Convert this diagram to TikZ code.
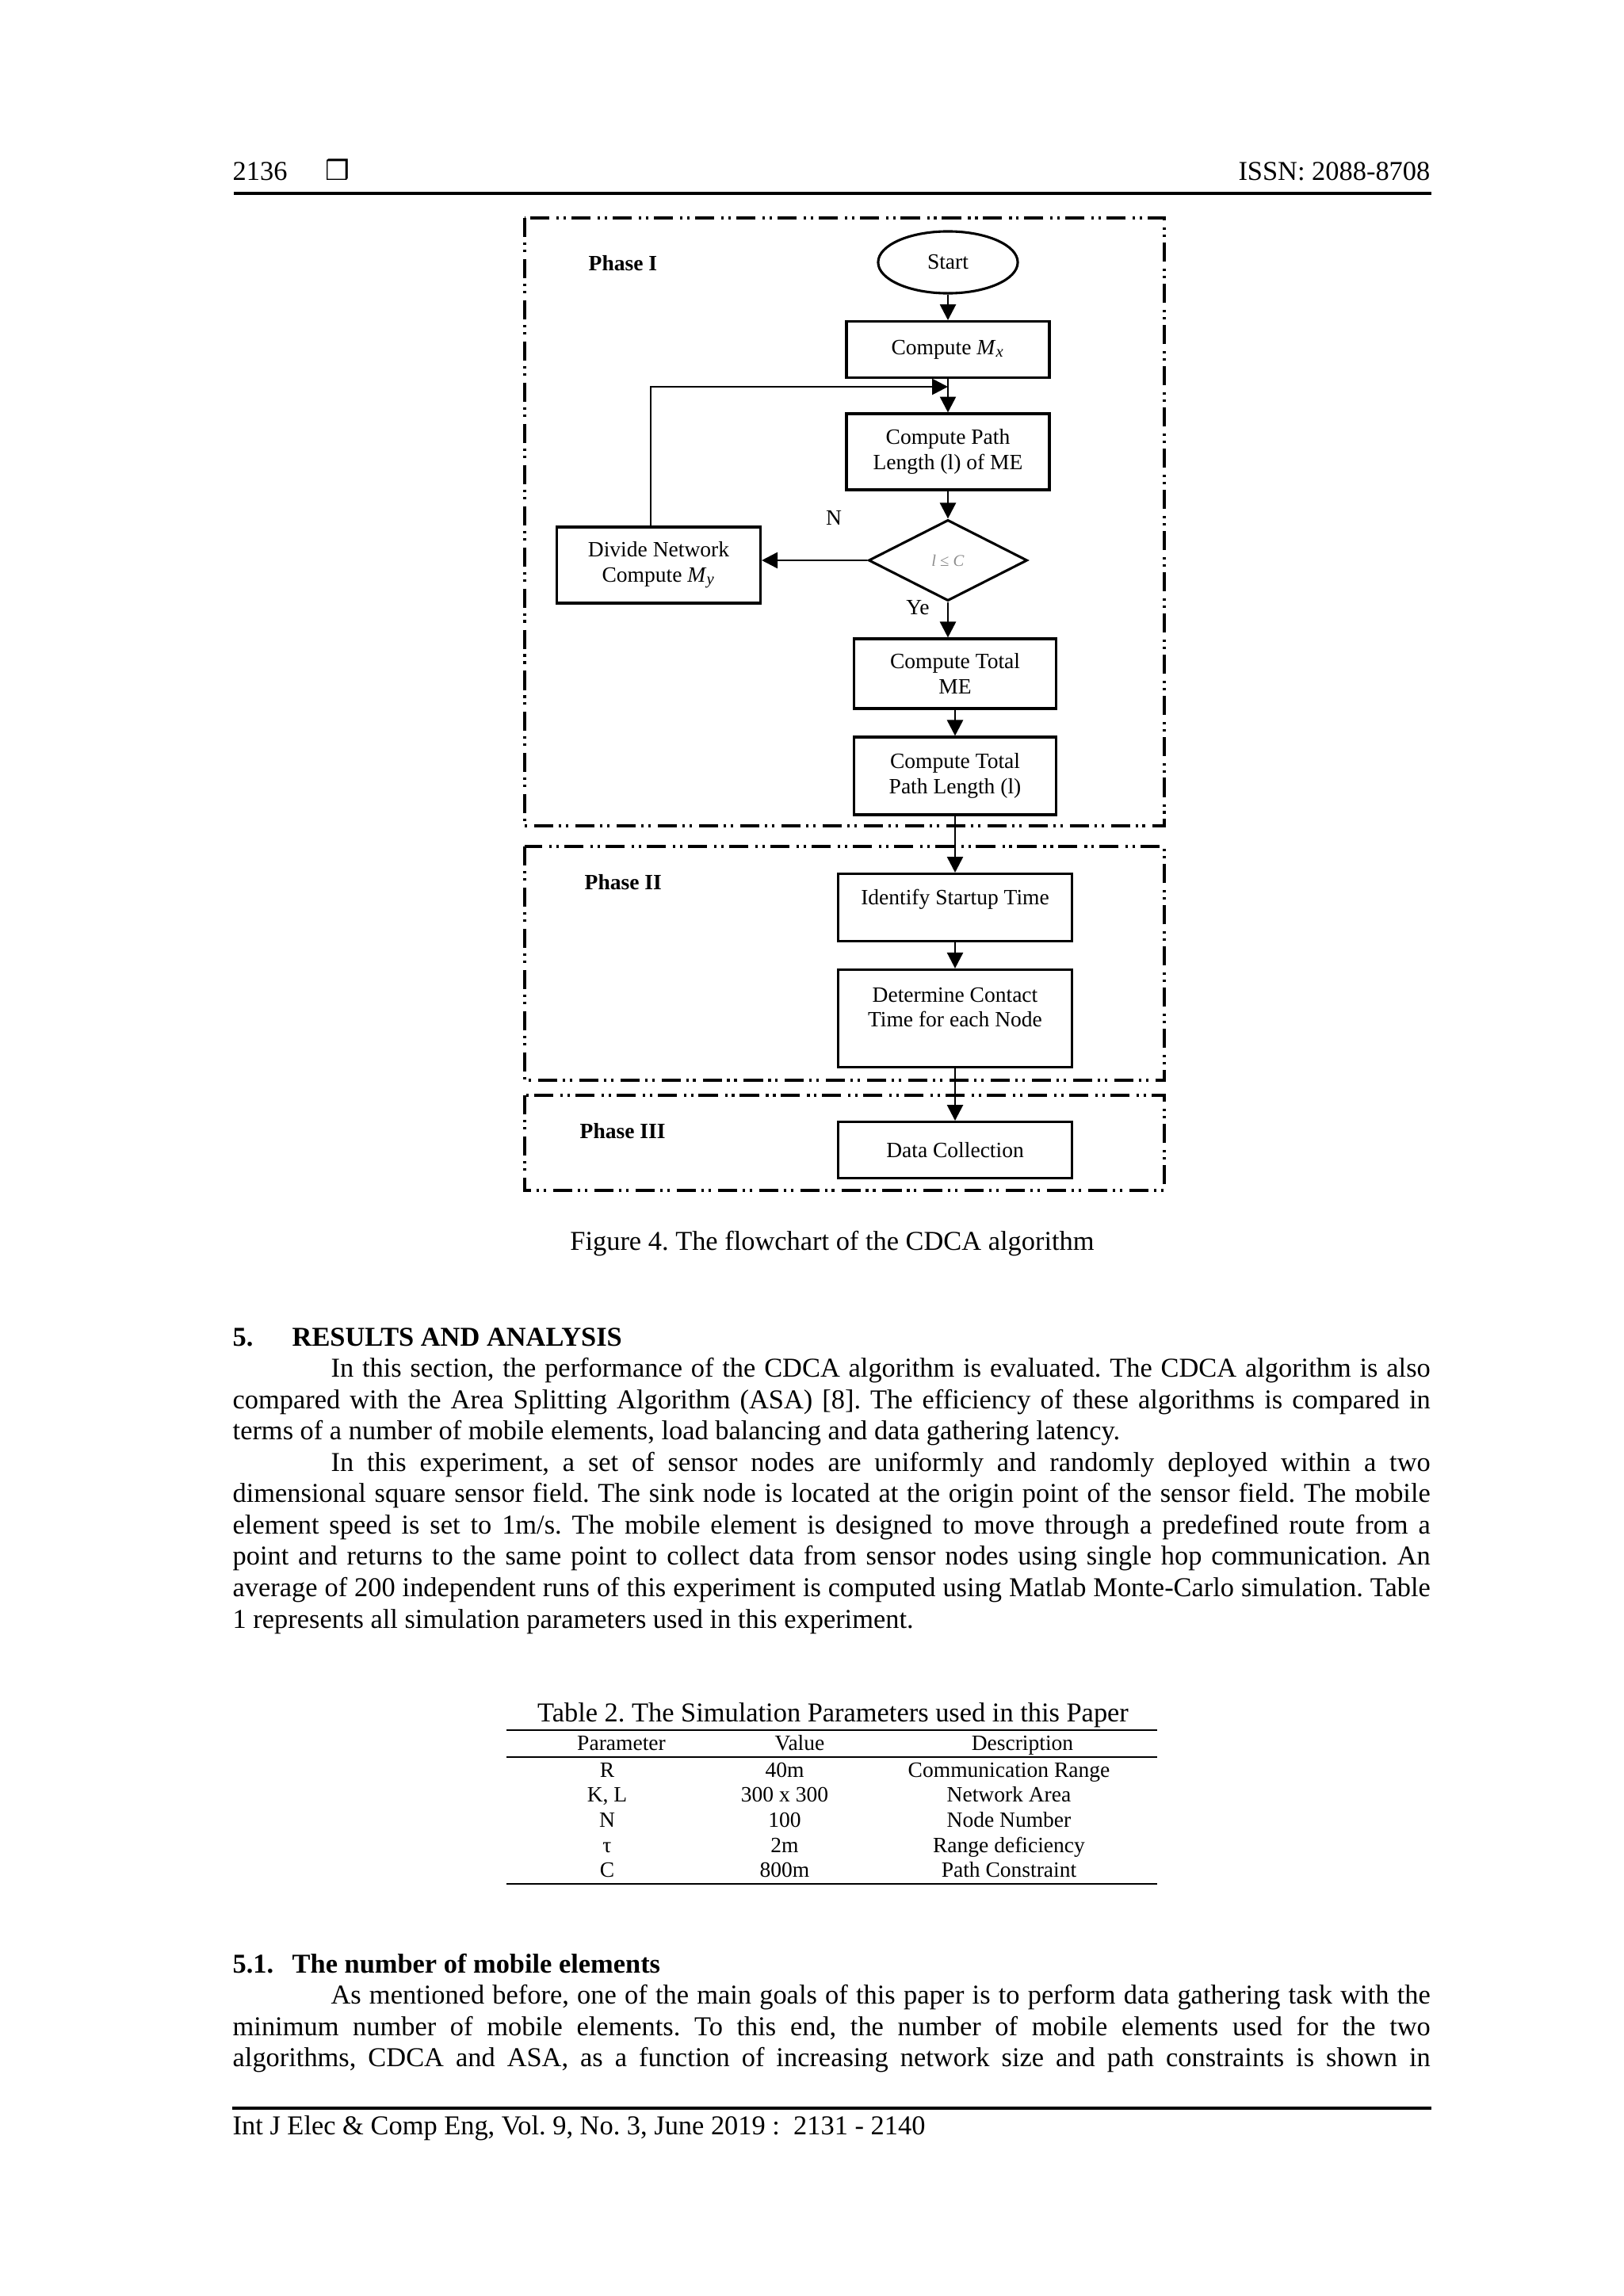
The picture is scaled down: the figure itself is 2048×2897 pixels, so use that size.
\documentclass[tikz,border=0pt]{standalone}
\usepackage{fontspec}
\setmainfont{Liberation Serif}
\newfontfamily\dejavu{DejaVu Sans}
\usetikzlibrary{arrows.meta,shapes.geometric}
\frenchspacing
\newlength\txtw \setlength\txtw{439.2pt}
\newcommand\jl[1]{\hbox to\txtw{#1}}
\newcommand\jli[1]{\hbox to\txtw{\hskip36pt #1}}
\newcommand\lastl[1]{\hbox to\txtw{#1\hfil}}
\newcommand\fcfont{\fontsize{8}{9.2}\selectfont}
\newcommand\parstack[1]{\vtop{\baselineskip=11.5pt\lineskiplimit=-100pt #1}}
\begin{document}
\begin{tikzpicture}[x=0.290664pt,y=-0.290664pt, font=\fontsize{10}{11.5}\selectfont,
  box/.style={draw, line width=0.9pt, align=center, font=\fcfont, inner sep=1pt},
  arr/.style={-{Triangle[length=5.8pt,width=5.8pt]}, line width=0.8pt},
  frame/.style={line width=0.9pt, dash pattern=on 7pt off 2pt on 0.9pt off 1.7pt on 0.9pt off 2.6pt},
  lbl/.style={inner sep=0pt, font=\fcfont},
  txt/.style={inner sep=0pt, anchor=base west},
  tcell/.style={inner sep=0pt, anchor=base, font=\fcfont}]
\useasboundingbox (0,0) rectangle (2048,2897);
\fill[white] (0,0) rectangle (2048,2897);

% ---------- header ----------
\node[txt] (pg) at (293,227) {2136};
\node[txt] (sym) at (410,227) {{\dejavu ❒}};
\node[inner sep=0pt, anchor=base east] (issn) at (1805,227) {ISSN: 2088-8708};
\draw[line width=1.2pt] (295,244) -- (1806,244);

% ---------- phase frames ----------
\draw[frame] (662,275) rectangle (1469,1042);
\draw[frame] (662,1068) rectangle (1469,1363);
\draw[frame] (662,1382) rectangle (1469,1502);
\node[lbl, anchor=west, font=\fcfont\bfseries] (ph1) at (742,332) {Phase I};
\node[lbl, anchor=west, font=\fcfont\bfseries] (ph2) at (737,1113) {Phase II};
\node[lbl, anchor=west, font=\fcfont\bfseries] (ph3) at (731,1427) {Phase III};

% ---------- flowchart nodes ----------
\node[draw, ellipse, line width=0.9pt, minimum width=51.2pt, minimum height=22.7pt, font=\fcfont, inner sep=0pt] (start) at (1196,331) {Start};
\node[box, minimum width=74.4pt, minimum height=20.6pt] (mx) at (1196,441) {Compute \textit{M}\textsubscript{\textit{x}}};
\node[box, minimum width=74.4pt, minimum height=27.9pt] (path) at (1196,570) {Compute Path\\Length (l) of ME};
\node[draw, diamond, aspect=2, line width=0.9pt, minimum width=58.2pt, minimum height=29.7pt, inner sep=0pt, font=\fontsize{6}{7}\selectfont, text=black!45] (dec) at (1196,707) {\textit{l} ≤ \textit{C}};
\node[box, minimum width=74.7pt, minimum height=27.9pt] (divide) at (831,713) {Divide Network\\Compute \textit{M}\textsubscript{\textit{y}}};
\node[box, minimum width=74.1pt, minimum height=25.6pt] (totme) at (1205,850) {Compute Total\\ME};
\node[box, minimum width=74.1pt, minimum height=28.5pt] (totpath) at (1205,979) {Compute Total\\Path Length (l)};
\node[box, minimum width=85.7pt, minimum height=24.7pt, label={[lbl, yshift=2.9pt]center:Identify Startup Time}] (ident) at (1205,1145) {};
\node[box, minimum width=85.7pt, minimum height=35.8pt, label={[lbl, align=center, yshift=4.1pt]center:Determine Contact\\Time for each Node}] (determ) at (1205,1285) {};
\node[box, minimum width=85.7pt, minimum height=20.6pt] (data) at (1205,1451) {Data Collection};

\node[lbl] (nlab) at (1052,653) {N};
\node[lbl] (ylab) at (1158,767) {Ye};

% ---------- connectors ----------
\coordinate (join) at (1196,488);
\draw[arr] (start) -- (mx);
\draw[arr] (mx) -- (path);
\draw[arr] ([xshift=-2.9pt]divide.north) |- (join);
\draw[arr] (path) -- (dec);
\draw[arr] (dec.west) -- (dec.west -| divide.east);
\draw[arr] (dec.south) -- (dec.south |- totme.north);
\draw[arr] (totme) -- (totpath);
\draw[arr] (totpath) -- (ident);
\draw[arr] (ident) -- (determ);
\draw[arr] (determ) -- (data);

% ---------- caption ----------
\node[inner sep=0pt, anchor=base] (figcap) at (1050,1577) {Figure 4. The flowchart of the CDCA algorithm};

% ---------- section 5 ----------
\node[txt, font=\fontsize{10}{11.5}\selectfont\bfseries] (s5n) at (293,1698) {5.};
\node[txt, font=\fontsize{10}{11.5}\selectfont\bfseries] (s5) at (368,1698) {RESULTS AND ANALYSIS};
\node[txt] (para1) at (293,1737.5) {\parstack{%
\jli{In this section, the performance of the CDCA algorithm is evaluated. The CDCA algorithm is also}
\jl{compared with the Area Splitting Algorithm (ASA) [8]. The efficiency of these algorithms is compared in}
\lastl{terms of a number of mobile elements, load balancing and data gathering latency.}
\jli{In this experiment, a set of sensor nodes are uniformly and randomly deployed within a two}
\jl{dimensional square sensor field. The sink node is located at the origin point of the sensor field. The mobile}
\jl{element speed is set to 1m/s. The mobile element is designed to move through a predefined route from a}
\jl{point and returns to the same point to collect data from sensor nodes using single hop communication. An}
\jl{average of 200 independent runs of this experiment is computed using Matlab Monte-Carlo simulation. Table}
\lastl{1 represents all simulation parameters used in this experiment.}}};

% ---------- table ----------
\node[inner sep=0pt, anchor=base] (tabcap) at (1051,2172) {Table 2. The Simulation Parameters used in this Paper};
\draw[line width=0.8pt] (639,2183) -- (1460,2183);
\draw[line width=0.6pt] (639,2217) -- (1460,2217);
\draw[line width=0.8pt] (639,2377) -- (1460,2377);
\node[tcell] (h1) at (784,2208) {Parameter};
\node[tcell] (h2) at (1009,2208) {Value};
\node[tcell] (h3) at (1290,2208) {Description};
\node[tcell] (r1a) at (766,2242) {R};
\node[tcell] (r1b) at (990,2242) {40m};
\node[tcell] (r1c) at (1273,2242) {Communication Range};
\node[tcell] (r2a) at (766,2273) {K, L};
\node[tcell] (r2b) at (990,2273) {300 x 300};
\node[tcell] (r2c) at (1273,2273) {Network Area};
\node[tcell] (r3a) at (766,2305) {N};
\node[tcell] (r3b) at (990,2305) {100};
\node[tcell] (r3c) at (1273,2305) {Node Number};
\node[tcell] (r4a) at (766,2337) {τ};
\node[tcell] (r4b) at (990,2337) {2m};
\node[tcell] (r4c) at (1273,2337) {Range deficiency};
\node[tcell] (r5a) at (766,2368) {C};
\node[tcell] (r5b) at (990,2368) {800m};
\node[tcell] (r5c) at (1273,2368) {Path Constraint};

% ---------- section 5.1 ----------
\node[txt, font=\fontsize{10}{11.5}\selectfont\bfseries] (s51n) at (293,2489) {5.1.};
\node[txt, font=\fontsize{10}{11.5}\selectfont\bfseries] (s51) at (368,2489) {The number of mobile elements};
\node[txt] (para3) at (293,2528.5) {\parstack{%
\jli{As mentioned before, one of the main goals of this paper is to perform data gathering task with the}
\jl{minimum number of mobile elements. To this end, the number of mobile elements used for the two}
\jl{algorithms, CDCA and ASA, as a function of increasing network size and path constraints is shown in}}};

% ---------- footer ----------
\draw[line width=1pt] (293,2660) -- (1806,2660);
\node[txt] (foot) at (293,2693) {Int J Elec \& Comp Eng, Vol. 9, No. 3, June 2019 :\ \ 2131 - 2140};
\end{tikzpicture}
\end{document}
